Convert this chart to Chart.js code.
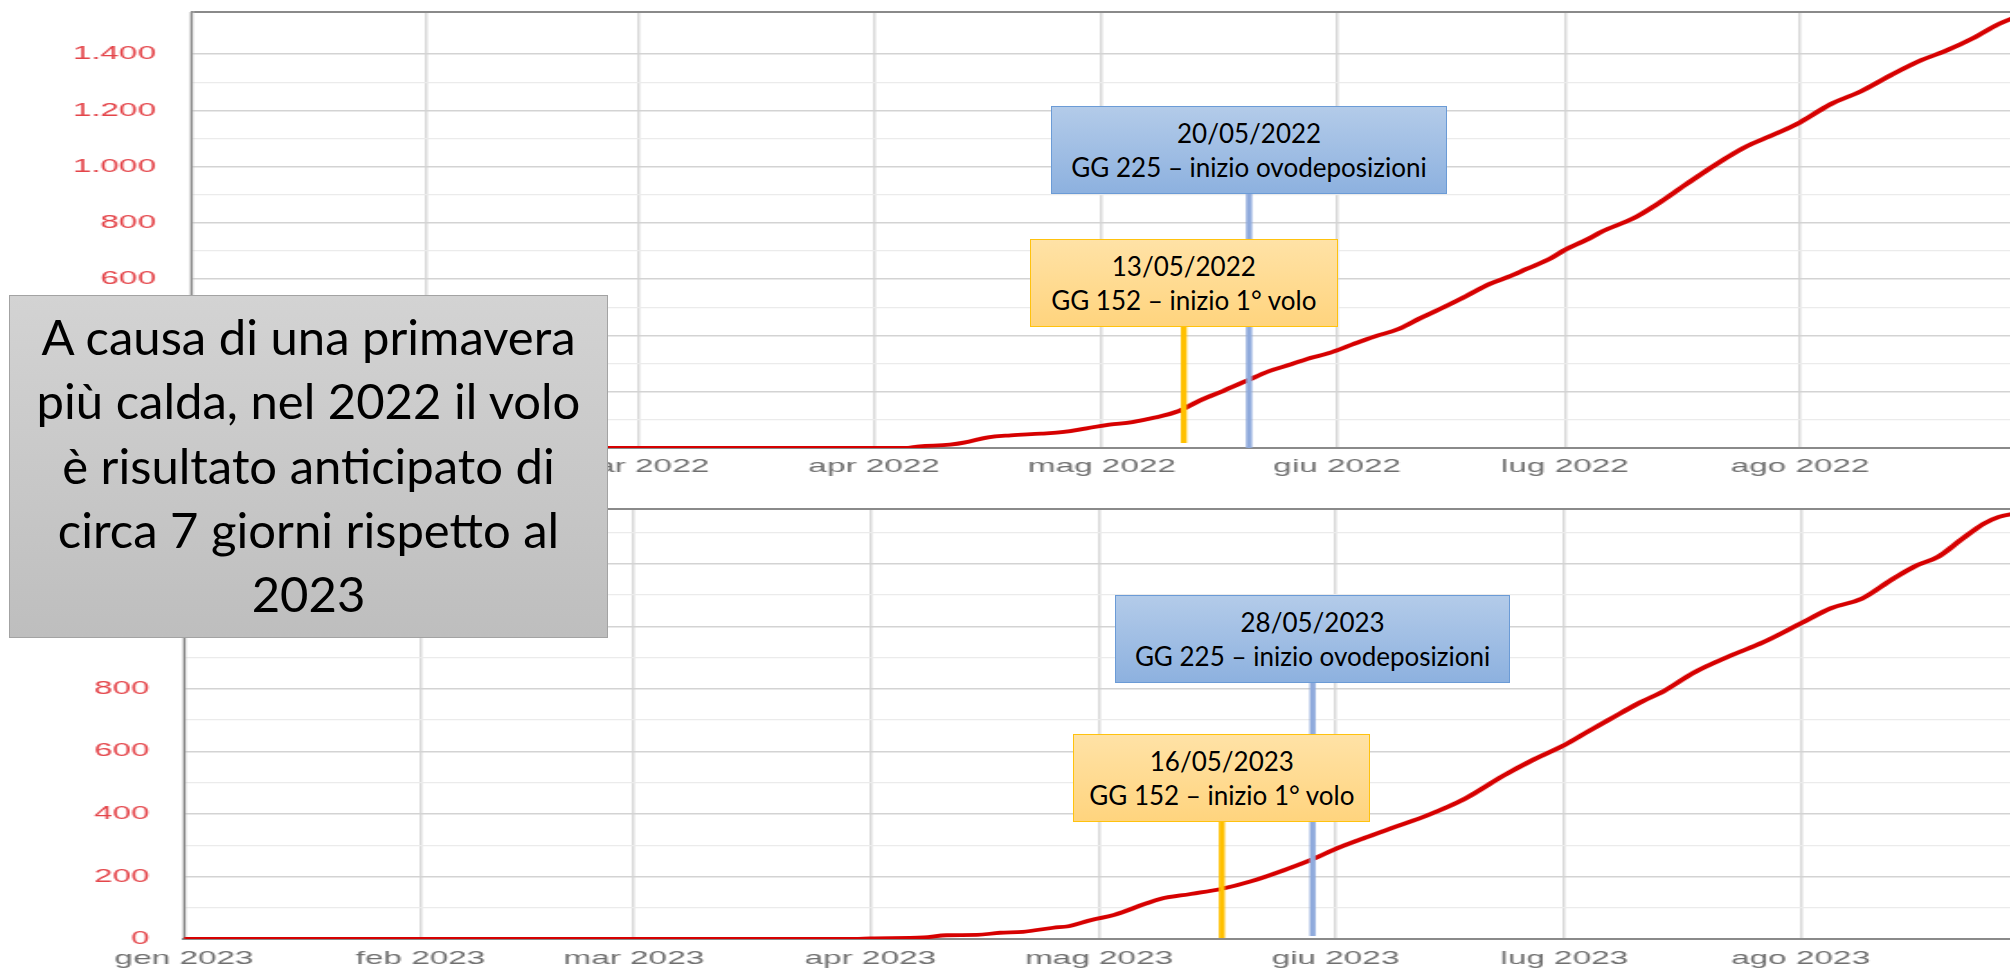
<!DOCTYPE html>
<html lang="it">
<head>
<meta charset="utf-8">
<title>Gradi giorno 2022 / 2023</title>
<script src="https://cdn.jsdelivr.net/npm/chart.js@4.4.1/dist/chart.umd.min.js"></script>
<style>
  html, body { margin:0; padding:0; background:#fff; }
  body { width:2010px; height:970px; overflow:hidden; position:relative; }
  .stretch { position:absolute; left:0; transform-origin:0 0; transform:scaleX(1.8); }
  .stretch canvas { display:block; }
  .note { position:absolute; box-sizing:border-box; display:flex; flex-direction:column;
          justify-content:center; align-items:center; font-family:'Lato','Open Sans',sans-serif;
          font-size:26px; line-height:34px; color:#000; white-space:nowrap; z-index:5; }
  .note.blue { background:linear-gradient(#b3cbe9,#8db1df); border:1.5px solid #6b9bd6; }
  .note.yellow { background:linear-gradient(#ffe2a6,#ffd47e); border:1.5px solid #ffc20e; }
  #msg { position:absolute; left:9px; top:295px; width:599px; height:343px; box-sizing:border-box;
         background:linear-gradient(#d3d3d3,#bebebe); border:1.5px solid #a3a3a3;
         font-family:'Lato','Open Sans',sans-serif; font-size:49px; line-height:64.3px;
         text-align:center; padding-top:8px; z-index:6; white-space:nowrap; color:#000; }
</style>
</head>
<body>
<div class="stretch" style="top:0"><canvas id="c1" width="1140" height="480"></canvas></div>
<div class="stretch" style="top:480px"><canvas id="c2" width="1140" height="490"></canvas></div>
<div id="msg">A causa di una primavera<br>più calda, nel 2022 il volo<br>è risultato anticipato di<br>circa 7 giorni rispetto al<br>2023</div>
<script>
// ---------- data ----------
const monthStarts = [0, 31, 59, 90, 120, 151, 181, 212];           // day of year (1 Jan = 0)
const monthNames  = ['gen', 'feb', 'mar', 'apr', 'mag', 'giu', 'lug', 'ago'];

const days2022 = [0, 94, 96, 100, 102, 105, 108, 112, 115, 118, 121, 124, 127, 130, 133, 136, 139, 142, 145, 147, 150, 153, 156, 159, 162, 165, 168, 171, 174, 176, 179, 181, 184, 186, 190, 193, 197, 201, 205, 208, 212, 216, 220, 224, 228, 231, 235, 238, 240, 241];
const gg2022   = [0, 0, 6, 12, 20, 38, 45, 51, 57, 70, 83, 92, 108, 130, 170, 203, 238, 273, 298, 316, 338, 368, 397, 422, 462, 500, 540, 582, 613, 637, 672, 704, 742, 771, 816, 864, 938, 1010, 1073, 1108, 1158, 1222, 1268, 1326, 1379, 1410, 1460, 1505, 1528, 1540];

const days2023 = [0, 88, 90, 97, 100, 104, 107, 110, 114, 116, 119, 122, 126, 128, 132, 136, 140, 144, 148, 151, 155, 159, 163, 168, 173, 177, 181, 184, 187, 191, 194, 198, 203, 207, 212, 216, 220, 224, 227, 230, 233, 236, 238, 240, 242];
const gg2023   = [0, 0, 2, 5, 12, 13, 20, 23, 36, 41, 61, 77, 112, 128, 144, 160, 185, 218, 255, 288, 325, 360, 395, 449, 522, 574, 620, 662, 703, 757, 792, 852, 908, 948, 1009, 1058, 1088, 1150, 1192, 1222, 1276, 1328, 1350, 1360, 1366];

const yMax2022 = 1550;
const yMax2023 = 1375;
const xMax = 243;

const noteTexts      = ['GG 152 – inizio 1° volo', 'GG 225 – inizio ovodeposizioni'];
const noteDays2022   = [130.8, 139.4];
const noteDates2022  = ['13/05/2022', '20/05/2022'];
const noteDays2023   = [136.1, 148.0];
const noteDates2023  = ['16/05/2023', '28/05/2023'];

// ---------- drawing ----------
const STRETCH = 1.8;
const TICK_FONT = { family: "'Liberation Sans', Arial, sans-serif", size: 18.5 };

function fmt(v) {
  const s = String(Math.round(v));
  return s.length > 3 ? s.slice(0, -3) + '.' + s.slice(-3) : s;
}

const markerPlugin = {
  id: 'markers',
  afterDatasetsDraw(chart, args, opts) {
    const { ctx, scales: { x, y } } = chart;
    (opts.items || []).forEach(m => {
      const px = x.getPixelForValue(m.day);
      ctx.save();
      ctx.strokeStyle = m.color;
      ctx.lineWidth = 6 / STRETCH;
      ctx.beginPath();
      ctx.moveTo(px, m.top);
      ctx.lineTo(px, y.bottom - m.gap);
      ctx.stroke();
      ctx.restore();
    });
  }
};

function buildChart(o) {
  const kinds = ['yellow', 'blue'];
  const colors = ['#ffc000', '#8faadc'];
  const markers = o.noteDays.map((d, i) => ({
    day: d, color: colors[i], top: o.boxTops[i] + o.boxHeights[i] - o.pageTop, gap: o.lineGaps[i]
  }));
  const chart = new Chart(document.getElementById(o.id), {
    type: 'line',
    data: {
      datasets: [{
        data: o.days.map((d, i) => ({ x: d, y: o.values[i] })),
        borderColor: '#d60000', borderWidth: 3.8, pointRadius: 0,
        tension: 0.4, cubicInterpolationMode: 'monotone', fill: false
      }]
    },
    options: {
      responsive: false, animation: false, devicePixelRatio: 1,
      layout: { padding: { left: 0, top: o.padTop, right: o.padRight, bottom: 0 } },
      plugins: { legend: { display: false }, tooltip: { enabled: false }, markers: { items: markers } },
      scales: {
        x: {
          type: 'linear', min: 0, max: xMax,
          afterBuildTicks: s => { s.ticks = monthStarts.map(v => ({ value: v })); },
          afterFit: s => { s.height = o.xAxisH; s.paddingLeft = 0; s.paddingRight = 0; },
          ticks: {
            autoSkip: false, maxRotation: 0, minRotation: 0, padding: o.xPad,
            color: '#6f6f6f', font: TICK_FONT,
            callback: v => { const i = monthStarts.indexOf(v); return i >= 0 ? monthNames[i] + ' ' + o.year : ''; }
          },
          grid: { color: '#d9d9d9', lineWidth: 1.5, drawTicks: false },
          border: { color: '#8a8a8a', width: 2 }
        },
        y: {
          min: 0, max: o.yMax,
          afterFit: s => { s.width = o.yAxisW; s.paddingTop = 0; s.paddingBottom = 0; },
          ticks: {
            stepSize: 100, autoSkip: false, padding: o.yPad,
            color: '#e4454a', font: TICK_FONT,
            callback: v => (v % 200 === 0 ? fmt(v) : '')
          },
          grid: {
            drawTicks: false,
            color: c => (c.tick && c.tick.value === o.yMax) ? '#8a8a8a' : (c.tick && c.tick.value % 200 === 0 ? '#d3d3d3' : '#ebebeb'),
            lineWidth: c => (c.tick && c.tick.value === o.yMax) ? 2 : (c.tick && c.tick.value % 200 === 0 ? 1.5 : 1.2)
          },
          border: { color: '#8a8a8a', width: 1.2 }
        }
      }
    },
    plugins: [markerPlugin]
  });

  // HTML labels, centred on the marker dates through the chart's x scale
  o.noteDays.forEach((d, i) => {
    const cx = chart.scales.x.getPixelForValue(d) * STRETCH;
    const el = document.createElement('div');
    el.className = 'note ' + kinds[i];
    el.style.width = o.boxWidths[i] + 'px';
    el.style.height = o.boxHeights[i] + 'px';
    el.style.left = (cx - o.boxWidths[i] / 2) + 'px';
    el.style.top = o.boxTops[i] + 'px';
    const a = document.createElement('div'); a.textContent = o.noteDates[i];
    const b = document.createElement('div'); b.textContent = noteTexts[i];
    el.appendChild(a); el.appendChild(b);
    document.body.appendChild(el);
  });
  return chart;
}

buildChart({
  id: 'c1', year: 2022, days: days2022, values: gg2022, yMax: yMax2022,
  pageTop: 0, padTop: 12, padRight: 9.2, yAxisW: 106.1, xAxisH: 32, xPad: 8, yPad: 19.4,
  noteDays: noteDays2022, noteDates: noteDates2022,
  boxTops: [239, 106], boxHeights: [88, 88], boxWidths: [308, 396], lineGaps: [5, 0]
});

buildChart({
  id: 'c2', year: 2023, days: days2023, values: gg2023, yMax: yMax2023,
  pageTop: 480, padTop: 29, padRight: 8.3, yAxisW: 102.2, xAxisH: 31, xPad: 9, yPad: 19.1,
  noteDays: noteDays2023, noteDates: noteDates2023,
  boxTops: [733.5, 594.5], boxHeights: [88, 88], boxWidths: [297, 395], lineGaps: [1, 3]
});
</script>
</body>
</html>
